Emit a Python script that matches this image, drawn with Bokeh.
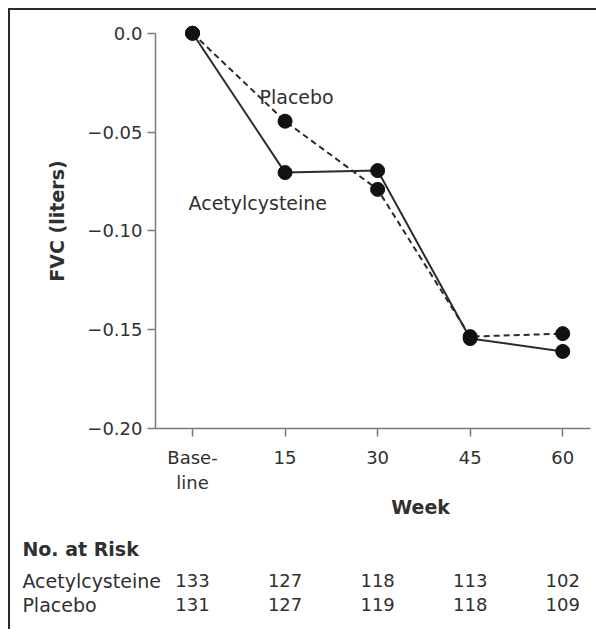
from bokeh.plotting import figure
from bokeh.layouts import column
from bokeh.models import FixedTicker, Label, Range1d, ColumnDataSource
from bokeh.core.properties import value
from bokeh.embed import file_html
from bokeh.resources import INLINE

# ---- data ----
week_labels = ["Base-\nline", "15", "30", "45", "60"]
acetyl = [0.0, -0.0705, -0.0695, -0.1545, -0.161]
placebo = [0.0, -0.0445, -0.079, -0.1535, -0.152]
y_ticks = [0.0, -0.05, -0.10, -0.15, -0.20]
y_tick_labels = ["0.0", "\u22120.05", "\u22120.10", "\u22120.15", "\u22120.20"]
risk_groups = ["Acetylcysteine", "Placebo"]
risk_acetyl = [133, 127, 118, 113, 102]
risk_placebo = [131, 127, 119, 118, 109]

xs = list(range(len(week_labels)))
FONT = "DejaVu Sans"
TXT = "#303030"
AX = "#7a7a7a"
FS = "18px"
FS_T = "19px"

X0, X1 = -0.4, 4.3
Y0, Y1 = -0.2, 0.01
W = 586
LEFT = 145
RIGHT = 6
FRAME_W = W - LEFT - RIGHT
FRAME_H = 420
MAIN_H = 485
TOP = 3
BOTTOM = MAIN_H - TOP - FRAME_H
TABLE_H = 134

p = figure(width=W, height=MAIN_H,
           x_range=Range1d(X0, X1), y_range=Range1d(Y0, Y1),
           output_backend="svg", toolbar_location=None,
           min_border_left=LEFT, min_border_right=RIGHT,
           min_border_top=TOP, min_border_bottom=BOTTOM)
p.outline_line_color = None
p.grid.visible = False

for ax in (p.xaxis[0], p.yaxis[0]):
    ax.axis_line_color = AX
    ax.axis_line_width = 1.5
    ax.major_tick_line_color = AX
    ax.major_tick_line_width = 1.5
    ax.minor_tick_line_color = None
    ax.major_tick_out = 8
    ax.major_tick_in = 0
    ax.major_label_text_font = FONT
    ax.major_label_text_font_size = FS
    ax.major_label_text_color = TXT
    ax.axis_label_text_font = FONT
    ax.axis_label_text_font_size = FS_T
    ax.axis_label_text_font_style = "bold"
    ax.axis_label_text_color = TXT

p.yaxis.ticker = FixedTicker(ticks=y_ticks)
p.yaxis.major_label_overrides = dict(zip(y_ticks, y_tick_labels))
p.yaxis.bounds = (-0.2, 0.0)
p.yaxis.major_label_standoff = 5
p.yaxis.axis_label = "FVC (liters)"
p.yaxis.axis_label_standoff = 16

p.xaxis.ticker = FixedTicker(ticks=xs)
p.xaxis.major_label_overrides = dict(zip(xs, week_labels))
p.xaxis.major_label_standoff = 10

# series
p.line(xs, placebo, line_color="#2b2b2b", line_width=2, line_dash="6 4")
p.line(xs, acetyl, line_color="#2b2b2b", line_width=2)
p.scatter(xs, placebo, size=14, fill_color="#111111", line_color="#111111")
p.scatter(xs, acetyl, size=14, fill_color="#111111", line_color="#111111")

def lab(x, y, text):
    p.add_layout(Label(x=x, y=y, text=text, text_align="left",
                       text_baseline="middle", text_font=FONT,
                       text_font_size=FS_T, text_color=TXT))

lab(0.724, -0.032, "Placebo")
lab(-0.043, -0.086, risk_groups[0])

# ---- lower panel: axis title + number at risk ----
ppx = FRAME_W / (X1 - X0)
ppy = FRAME_H / (Y1 - Y0)
tx0 = X0 - LEFT / ppx
tx1 = X1 + RIGHT / ppx
ty1 = Y0 - BOTTOM / ppy
ty0 = ty1 - TABLE_H / ppy

t = figure(width=W, height=TABLE_H,
           x_range=Range1d(tx0, tx1), y_range=Range1d(ty0, ty1),
           output_backend="svg", toolbar_location=None,
           min_border=0)
t.outline_line_color = None
t.grid.visible = False
t.axis.visible = False

label_x = -1.838
t.text(x=[2.465], y=[-0.2365], text=["Week"], text_align="center",
       text_baseline="middle", text_font=value(FONT), text_font_size=FS_T,
       text_font_style="bold", text_color=TXT)
t.text(x=[label_x], y=[-0.2575], text=["No. at Risk"], text_align="left",
       text_baseline="middle", text_font=value(FONT), text_font_size=FS_T,
       text_font_style="bold", text_color=TXT)
row_y = [-0.2735, -0.2855]
t.text(x=[label_x] * 2, y=row_y, text=risk_groups, text_align="left",
       text_baseline="middle", text_font=value(FONT), text_font_size=FS_T,
       text_color=TXT)
for counts, ry in zip([risk_acetyl, risk_placebo], row_y):
    src = ColumnDataSource(dict(x=xs, y=[ry] * len(xs), t=[str(c) for c in counts]))
    t.text(x="x", y="y", text="t", source=src, text_align="center",
           text_baseline="middle", text_font=value(FONT), text_font_size=FS,
           text_color=TXT)

layout = column(p, column(t, spacing=0), spacing=0,
                styles={"margin-left": "8px", "margin-top": "8px",
                        "border-left": "2px solid #2a2a2a",
                        "border-top": "2px solid #2a2a2a"})

open("out.html", "w").write(file_html(layout, INLINE))
